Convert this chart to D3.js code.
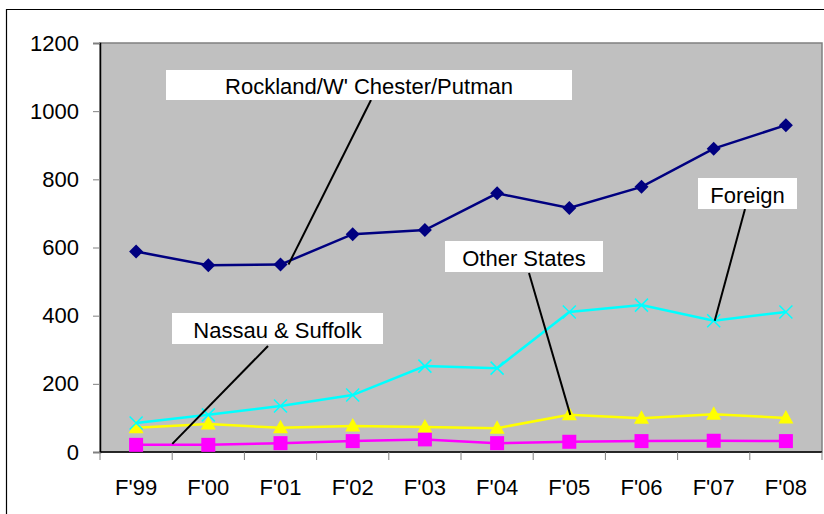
<!DOCTYPE html>
<html>
<head>
<meta charset="utf-8">
<script src="https://cdn.jsdelivr.net/npm/d3@7"></script>
<style>
  body { margin: 0; background: #fff; }
  svg { display: block; font-family: Arial, "Liberation Sans", sans-serif; }
</style>
</head>
<body>
<div id="main"></div>
<script>
// chart data
const years = ["F'99", "F'00", "F'01", "F'02", "F'03", "F'04", "F'05", "F'06", "F'07", "F'08"];
const rockland = [588, 548, 550, 639, 651, 759, 716, 778, 890, 959];
const foreign = [85, 109, 135, 167, 252, 246, 411, 431, 385, 411];
const otherStates = [71, 82, 71, 76, 73, 70, 109, 99, 111, 100];
const nassau = [21, 21, 26, 32, 37, 26, 30, 32, 33, 32];
const yTicks = [0, 200, 400, 600, 800, 1000, 1200];

document.addEventListener("DOMContentLoaded", () => {
  const W = 824, H = 514;
  const plot = { left: 100, right: 822, top: 43, bottom: 452 };

  const svg = d3.select("#main").append("svg")
    .attr("width", W).attr("height", H);

  // outer frame (right and bottom run off the picture)
  svg.append("path")
    .attr("d", `M6.5,${H} V9.5 H${W}`)
    .attr("fill", "none").attr("stroke", "#000").attr("stroke-width", 1.2);

  const x = d3.scaleBand().domain(years).range([plot.left, plot.right]);
  const y = d3.scaleLinear().domain([0, 1200]).range([plot.bottom, plot.top]);
  const cx = d => x(d) + x.bandwidth() / 2;

  // plot background
  svg.append("rect")
    .attr("x", plot.left).attr("y", plot.top)
    .attr("width", plot.right - plot.left).attr("height", plot.bottom - plot.top)
    .attr("fill", "#c0c0c0").attr("stroke", "#808080").attr("stroke-width", 1.5);

  // y axis
  const yAxis = svg.append("g")
    .attr("transform", `translate(${plot.left},0)`)
    .call(d3.axisLeft(y).tickValues(yTicks).tickFormat(d3.format("d")).tickSize(7).tickPadding(14));
  yAxis.select(".domain").attr("stroke", "#000").attr("stroke-width", 1.5);
  yAxis.selectAll(".tick line").attr("stroke", "#808080");
  yAxis.selectAll(".tick text").attr("font-size", 22).attr("fill", "#000")
    .attr("font-family", "Arial, 'Liberation Sans', sans-serif");

  // x axis: ticks on band boundaries
  const xAxis = svg.append("g")
    .attr("transform", `translate(0,${plot.bottom})`);
  xAxis.append("line")
    .attr("x1", plot.left).attr("x2", plot.right)
    .attr("stroke", "#000").attr("stroke-width", 1.5);
  xAxis.selectAll(".xt")
    .data(years.concat(["end"]))
    .join("line")
    .attr("class", "xt")
    .attr("x1", (d, i) => i < years.length ? x(d) : plot.right)
    .attr("x2", (d, i) => i < years.length ? x(d) : plot.right)
    .attr("y1", 0).attr("y2", 8)
    .attr("stroke", "#808080");
  xAxis.selectAll(".xl")
    .data(years)
    .join("text")
    .attr("class", "xl")
    .attr("x", d => cx(d)).attr("y", 43)
    .attr("text-anchor", "middle").attr("font-size", 22)
    .text(d => d);

  const line = d3.line()
    .x((d, i) => cx(years[i]))
    .y(d => y(d));

  const series = [
    { name: "rockland", values: rockland, color: "#000080", marker: "diamond" },
    { name: "foreign", values: foreign, color: "#00ffff", marker: "cross" },
    { name: "other", values: otherStates, color: "#ffff00", marker: "triangle" },
    { name: "nassau", values: nassau, color: "#ff00ff", marker: "square" }
  ];

  // draw back to front like the original
  series.slice().reverse().forEach(s => {
    const g = svg.append("g");
    g.append("path")
      .datum(s.values)
      .attr("d", line)
      .attr("fill", "none")
      .attr("stroke", s.color)
      .attr("stroke-width", 2.5);

    const pts = g.selectAll("g.pt")
      .data(s.values)
      .join("g")
      .attr("transform", (d, i) => `translate(${cx(years[i])},${y(d)})`);

    if (s.marker === "diamond") {
      pts.append("path").attr("d", "M0,-7 L7,0 L0,7 L-7,0 Z").attr("fill", s.color);
    } else if (s.marker === "square") {
      pts.append("rect").attr("x", -7).attr("y", -7).attr("width", 14).attr("height", 14).attr("fill", s.color);
    } else if (s.marker === "triangle") {
      pts.append("path").attr("d", "M0,-8 L7.5,5.5 L-7.5,5.5 Z").attr("fill", s.color);
    } else {
      pts.append("path").attr("d", "M-6.5,-6.5 L6.5,6.5 M-6.5,6.5 L6.5,-6.5")
        .attr("stroke", s.color).attr("stroke-width", 1.5);
    }
  });

  // callout labels with leader lines; the end is offset from the data point
  const callouts = [
    { text: "Rockland/W' Chester/Putman", box: [166, 70, 406, 30], from: [371, 100], year: "F'01", val: rockland[2], off: [8, 0] },
    { text: "Foreign", box: [698, 178, 99, 31], from: [745, 209], year: "F'07", val: foreign[8], off: [1, 0] },
    { text: "Other States", box: [445, 241, 158, 31], from: [529, 273], year: "F'05", val: otherStates[6], off: [1, 0] },
    { text: "Nassau & Suffolk", box: [172, 313, 211, 31], from: [268, 346], year: "F'00", val: nassau[1], off: [-36, -1] }
  ];

  callouts.forEach(c => {
    const [bx, by, bw, bh] = c.box;
    svg.append("line")
      .attr("x1", c.from[0]).attr("y1", c.from[1])
      .attr("x2", cx(c.year) + c.off[0]).attr("y2", y(c.val) + c.off[1])
      .attr("stroke", "#000").attr("stroke-width", 2);
    svg.append("rect")
      .attr("x", bx).attr("y", by).attr("width", bw).attr("height", bh)
      .attr("fill", "#fff");
    svg.append("text")
      .attr("x", bx + bw / 2).attr("y", by + bh - 6)
      .attr("text-anchor", "middle").attr("font-size", 22)
      .text(c.text);
  });
});
</script>
</body>
</html>
